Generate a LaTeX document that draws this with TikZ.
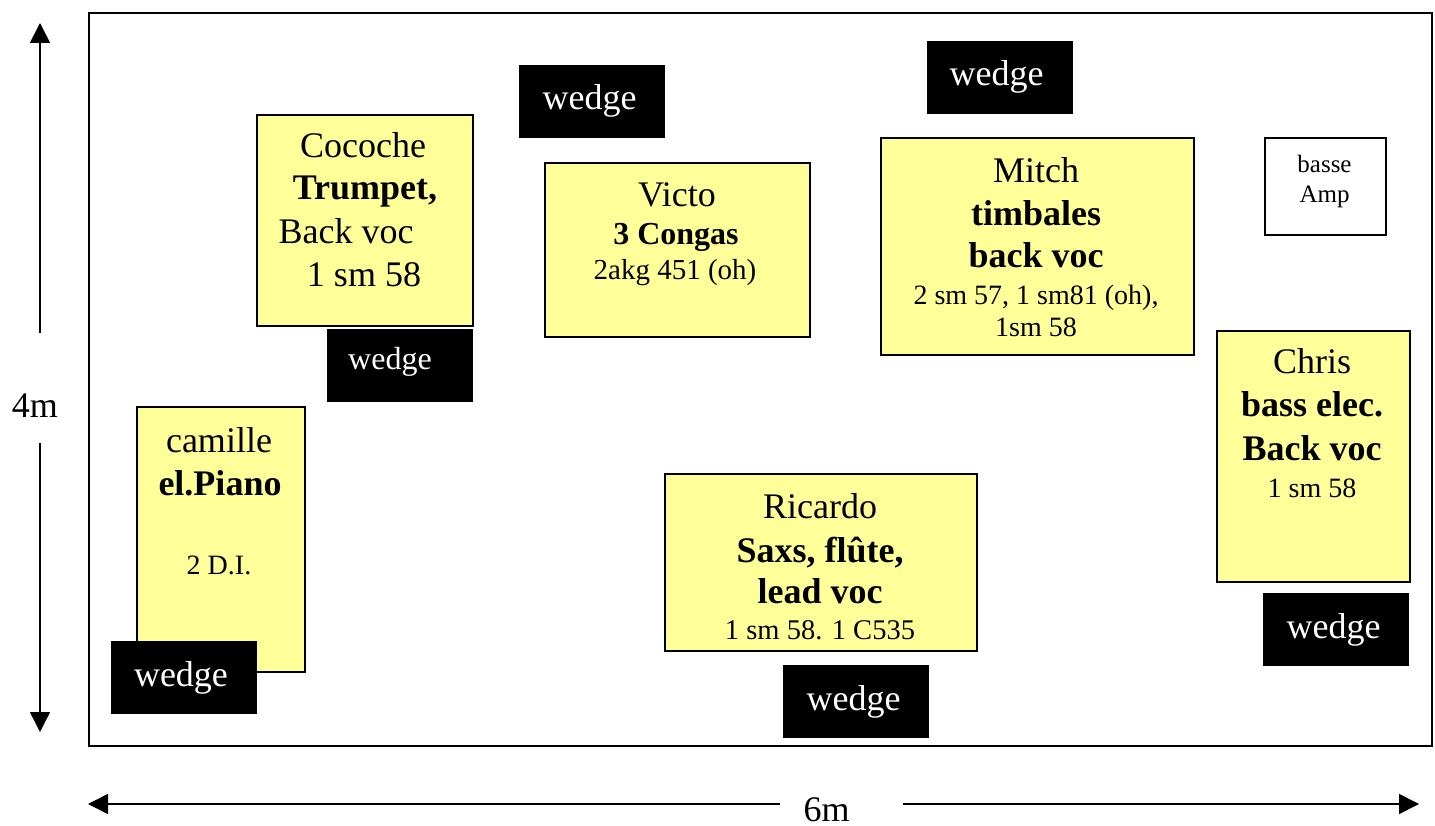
\documentclass[tikz,border=0pt]{standalone}
\usepackage{fontspec}
\setmainfont{Liberation Serif}
\usetikzlibrary{arrows.meta}
\definecolor{padyellow}{HTML}{FFFF99}
\newcommand\fsz[1]{\fontsize{#1}{#1}\selectfont}
\tikzset{
  pad/.style={draw=black, line width=1.6pt, fill=padyellow, inner sep=0pt, anchor=north west},
  wedgebox/.style={fill=black, draw=none, inner sep=0pt, anchor=north west, minimum width=146pt, minimum height=73pt},
  wedgetxt/.style={text=white, anchor=base, inner sep=0pt, font=\fsz{36}},
  lbl/.style={anchor=base, inner sep=0pt, text=black},
  dimarrow/.style={line width=1.6pt, -{Triangle[width=20pt,length=20pt]}},
}
\begin{document}
\begin{tikzpicture}[x=1pt,y=-1pt]
\useasboundingbox (0,0) rectangle (1435,826);
% stage outline
\node[draw=black, line width=2pt, inner sep=0pt, anchor=north west, minimum width=1343pt, minimum height=733pt] (stage) at (88,12) {};

% dimension arrows
\coordinate (vtopstart) at (40,333);
\coordinate (vtopend) at (40,23);
\coordinate (vbotstart) at (40,443);
\coordinate (vbotend) at (40,732);
\draw[dimarrow] (vtopstart) -- (vtopend);
\draw[dimarrow] (vbotstart) -- (vbotend);
\node[lbl, font=\fsz{36}] (fourm) at (35,417) {4m};

\coordinate (hleftstart) at (780,804);
\coordinate (hleftend) at (88,804);
\coordinate (hrightstart) at (903,804);
\coordinate (hrightend) at (1419,804);
\draw[dimarrow] (hleftstart) -- (hleftend);
\draw[dimarrow] (hrightstart) -- (hrightend);
\node[lbl, font=\fsz{36}] (sixm) at (826.5,821) {6m};

% Cocoche
\node[pad, minimum width=216pt, minimum height=211pt] (cocoche) at (256,114) {};
\node[lbl, font=\fsz{36}] (coc1) at (363,158) {Cocoche};
\node[lbl, font=\fsz{36}\bfseries] (coc2) at (365,200) {Trumpet,};
\node[lbl, font=\fsz{36}] (coc3) at (346,244) {Back voc};
\node[lbl, font=\fsz{36}] (coc4) at (364,287) {1 sm 58};

% camille
\node[pad, minimum width=168pt, minimum height=265pt] (camille) at (136,406) {};
\node[lbl, font=\fsz{36}] (cam1) at (219,452) {camille};
\node[lbl, font=\fsz{36}\bfseries] (cam2) at (220,495) {el.Piano};
\node[lbl, font=\fsz{28}] (cam3) at (219,574) {2 D.I.};

% Victo
\node[pad, minimum width=265pt, minimum height=174pt] (victo) at (544,162) {};
\node[lbl, font=\fsz{36}] (vic1) at (677,207) {Victo};
\node[lbl, font=\fsz{32}\bfseries] (vic2) at (676,245) {3 Congas};
\node[lbl, font=\fsz{29}] (vic3) at (675,280) {2akg 451 (oh)};

% Mitch
\node[pad, minimum width=313pt, minimum height=217pt] (mitch) at (880,137) {};
\node[lbl, font=\fsz{36}] (mit1) at (1036,183) {Mitch};
\node[lbl, font=\fsz{36}\bfseries] (mit2) at (1036,226) {timbales};
\node[lbl, font=\fsz{36}\bfseries] (mit3) at (1036,268) {back voc};
\node[lbl, font=\fsz{28}] (mit4) at (1036,305) {2 sm 57, 1 sm81 (oh),};
\node[lbl, font=\fsz{28}] (mit5) at (1036,337) {1sm 58};

% basse Amp
\node[draw=black, line width=1.6pt, fill=white, inner sep=0pt, anchor=north west, minimum width=121pt, minimum height=97pt] (amp) at (1264,137) {};
\node[lbl, font=\fsz{25}] (amp1) at (1324.5,173) {basse};
\node[lbl, font=\fsz{25}] (amp2) at (1324.5,203) {Amp};

% Chris
\node[pad, minimum width=193pt, minimum height=251pt] (chris) at (1216,330) {};
\node[lbl, font=\fsz{36}] (chr1) at (1312,373) {Chris};
\node[lbl, font=\fsz{36}\bfseries] (chr2) at (1312,416) {bass elec.};
\node[lbl, font=\fsz{36}\bfseries] (chr3) at (1312,460) {Back voc};
\node[lbl, font=\fsz{28}] (chr4) at (1312,497) {1 sm 58};

% Ricardo
\node[pad, minimum width=312pt, minimum height=177pt] (ricardo) at (664,473) {};
\node[lbl, font=\fsz{36}] (ric1) at (820,518) {Ricardo};
\node[lbl, font=\fsz{36}\bfseries] (ric2) at (820,562) {Saxs, flûte,};
\node[lbl, font=\fsz{36}\bfseries] (ric3) at (820,603) {lead voc};
\node[lbl, font=\fsz{28.5}] (ric4) at (820,639) {1 sm 58. 1 C535};

% wedges
\node[wedgebox] (w1) at (519,65) {};
\node[wedgetxt] (w1t) at (589.5,110) {wedge};
\node[wedgebox] (w2) at (927,41) {};
\node[wedgetxt] (w2t) at (996.5,86) {wedge};
\node[wedgebox] (w3) at (327,329) {};
\node[wedgetxt, font=\fsz{32}] (w3t) at (390,369) {wedge};
\node[wedgebox] (w4) at (111,641) {};
\node[wedgetxt] (w4t) at (181,686) {wedge};
\node[wedgebox] (w5) at (783,665) {};
\node[wedgetxt] (w5t) at (853.5,710) {wedge};
\node[wedgebox] (w6) at (1263,593) {};
\node[wedgetxt] (w6t) at (1333.5,638) {wedge};
\end{tikzpicture}
\end{document}
